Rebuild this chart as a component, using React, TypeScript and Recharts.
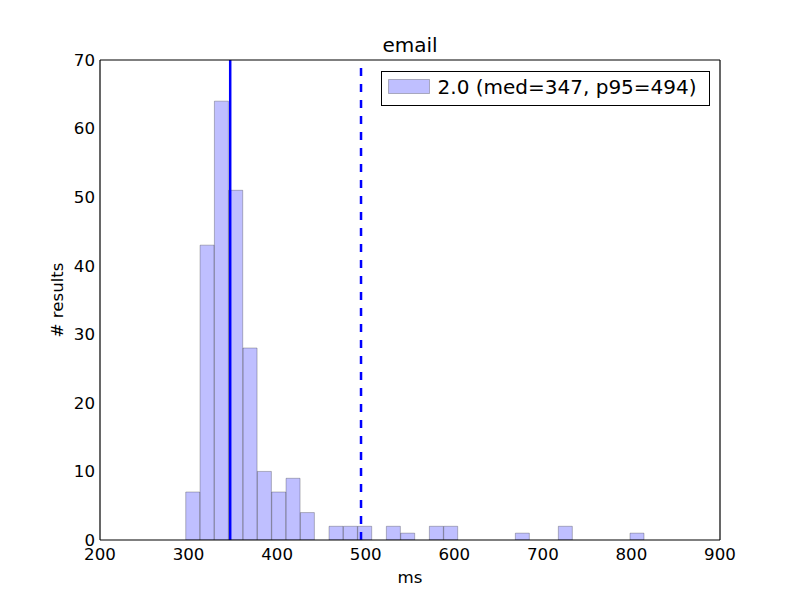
import React from 'react';
import { ComposedChart, Bar, Line, XAxis, YAxis, ReferenceLine, Legend } from 'recharts';

// Histogram of response times (ms) for "email"
const BIN_START = 296.8;
const BIN_WIDTH = 16.18;
const counts = [7, 43, 64, 51, 28, 10, 7, 9, 4, 0, 2, 2, 2, 0, 2, 1, 0, 2, 2, 0, 0, 0, 0, 1, 0, 0, 2, 0, 0, 0, 0, 1];
const xTicks = [200, 300, 400, 500, 600, 700, 800, 900];
const yTicks = [0, 10, 20, 30, 40, 50, 60, 70];
const MEDIAN = 347;
const P95 = 494.7;
const TITLE = 'email';
const X_LABEL = 'ms';
const Y_LABEL = '# results';
const SERIES_LABEL = '2.0 (med=347, p95=494)';

const data = counts.map((c, i) => ({ x: BIN_START + (i + 0.5) * BIN_WIDTH, count: c }));

const FONT = '"DejaVu Sans", sans-serif';
const tickStyle = { fill: '#000', fontSize: 16.67, fontFamily: FONT };

const LegendBox = () => (
  <div
    style={{
      position: 'relative',
      width: 329,
      height: 35.5,
      border: '1px solid #000',
      background: '#fff',
      boxSizing: 'border-box',
      fontFamily: FONT,
    }}
  >
    <svg width={42} height={15} style={{ position: 'absolute', left: 5.7, top: 7.8 }}>
      <rect x={0.5} y={0.5} width={41} height={14} fill="#0000ff" fillOpacity={0.25} stroke="#000" strokeOpacity={0.25} />
    </svg>
    <span
      style={{
        position: 'absolute',
        left: 55.6,
        top: 3.2,
        fontSize: 20,
        lineHeight: 'normal',
        whiteSpace: 'nowrap',
        color: '#000',
      }}
    >
      {SERIES_LABEL}
    </span>
  </div>
);

const YLabel = (props: any) => {
  const vb = props.viewBox || {};
  const x = vb.x + 17;
  const y = vb.y + vb.height / 2;
  return (
    <text
      x={x}
      y={y}
      dy={5.9}
      transform={`rotate(-90, ${x}, ${y})`}
      textAnchor="middle"
      fill="#000"
      fontSize={16.67}
      fontFamily={FONT}
    >
      {Y_LABEL}
    </text>
  );
};

export default function App() {
  return (
    <div style={{ position: 'absolute', left: 0, top: 0, width: 800, height: 600, background: '#fff' }}>
      <div
        style={{
          position: 'absolute',
          left: 100,
          width: 620,
          top: 33.1,
          textAlign: 'center',
          fontFamily: FONT,
          fontSize: 20,
          lineHeight: 'normal',
          color: '#000',
        }}
      >
        {TITLE}
      </div>
      <ComposedChart
        width={800}
        height={600}
        data={data}
        margin={{ top: 60, right: 80, bottom: 30, left: 40 }}
        barCategoryGap={0}
        barGap={0}
        style={{ fontFamily: FONT }}
      >
        <XAxis
          dataKey="x"
          type="number"
          domain={[200, 900]}
          ticks={xTicks}
          interval={0}
          allowDataOverflow
          height={30}
          tickLine={false}
          tickSize={0}
          tickMargin={8}
          axisLine={{ stroke: '#000', strokeWidth: 1.2 }}
          tick={tickStyle}
          label={{ value: X_LABEL, position: 'bottom', offset: 1, fill: '#000', fontSize: 16.67, fontFamily: FONT }}
        />
        <XAxis
          xAxisId="bottomTicks"
          dataKey="x"
          type="number"
          domain={[200, 900]}
          ticks={xTicks}
          interval={0}
          allowDataOverflow
          orientation="bottom"
          mirror
          height={1}
          tick={false}
          tickSize={5}
          tickLine={{ stroke: '#000' }}
          axisLine={false}
        />
        <XAxis
          xAxisId="top"
          dataKey="x"
          type="number"
          domain={[200, 900]}
          ticks={xTicks}
          interval={0}
          allowDataOverflow
          orientation="top"
          mirror
          height={1}
          tick={false}
          tickSize={5}
          tickLine={{ stroke: '#000' }}
          axisLine={{ stroke: '#000', strokeWidth: 1.2 }}
        />
        <YAxis
          type="number"
          domain={[0, 70]}
          ticks={yTicks}
          interval={0}
          allowDataOverflow
          width={60}
          tickLine={false}
          tickSize={0}
          tickMargin={5}
          axisLine={{ stroke: '#000', strokeWidth: 1.2 }}
          tick={tickStyle}
          label={<YLabel />}
        />
        <YAxis
          yAxisId="leftTicks"
          type="number"
          domain={[0, 70]}
          ticks={yTicks}
          interval={0}
          allowDataOverflow
          orientation="left"
          mirror
          width={1}
          tick={false}
          tickSize={5}
          tickLine={{ stroke: '#000' }}
          axisLine={false}
        />
        <YAxis
          yAxisId="right"
          type="number"
          domain={[0, 70]}
          ticks={yTicks}
          interval={0}
          allowDataOverflow
          orientation="right"
          mirror
          width={1}
          tick={false}
          tickSize={5}
          tickLine={{ stroke: '#000' }}
          axisLine={{ stroke: '#000', strokeWidth: 1.2 }}
        />
        <Bar
          dataKey="count"
          fill="#0000ff"
          fillOpacity={0.25}
          stroke="#000"
          strokeOpacity={0.25}
          strokeWidth={1}
          isAnimationActive={false}
          legendType="none"
        />
        <Line
          xAxisId="top"
          yAxisId="right"
          dataKey="count"
          stroke="none"
          dot={false}
          activeDot={false}
          isAnimationActive={false}
          legendType="none"
        />
        <Line
          xAxisId="bottomTicks"
          yAxisId="leftTicks"
          dataKey="count"
          stroke="none"
          dot={false}
          activeDot={false}
          isAnimationActive={false}
          legendType="none"
        />
        <ReferenceLine x={MEDIAN} stroke="#0000ff" strokeWidth={2.5} />
        <ReferenceLine x={P95} stroke="#0000ff" strokeWidth={2.5} strokeDasharray="8 8" />
        <Legend
          layout="vertical"
          align="center"
          verticalAlign="middle"
          content={() => <LegendBox />}
          wrapperStyle={{ left: 381, top: 70.5, width: 329, height: 36 }}
        />
      </ComposedChart>
    </div>
  );
}
